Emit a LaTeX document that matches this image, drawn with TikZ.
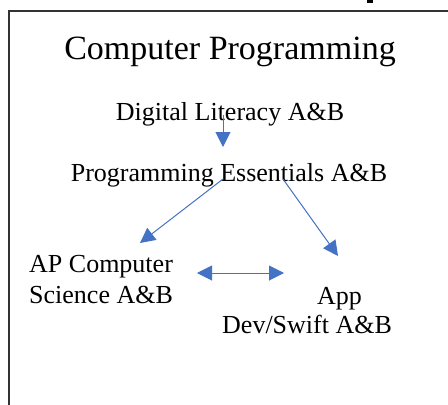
\documentclass[tikz,border=0pt]{standalone}
\usepackage{fontspec}
\setmainfont{Liberation Serif}
\usetikzlibrary{arrows.meta}
\definecolor{arrowblue}{RGB}{68,114,196}
\begin{document}
\begin{tikzpicture}[x=1pt,y=-1pt]
    \tikzstyle{course}=[inner sep=0pt,font=\fontsize{26}{31}\selectfont]
    \tikzstyle{link}=[draw=arrowblue,line width=1pt,-{Triangle[length=15pt,width=15pt]}]
    \useasboundingbox (0,0) rectangle (448,405);
    \draw[line width=1.2pt,black!80] (448,11) -- (9,11) -- (9,405);
    \fill (367,0) rectangle (373,3);

    \node[course,font=\fontsize{34}{40}\selectfont,anchor=base] (title) at (230,59) {Computer Programming};
    \node[course,anchor=base] (dl) at (230,120) {Digital Literacy A\&B};
    \node[course,anchor=base] (pe) at (229,181) {Programming Essentials A\&B};
    \node[course,anchor=base west] (apcs-1) at (29,272) {AP Computer};
    \node[course,anchor=base west] (apcs-2) at (29,303) {Science A\&B};
    \node[course,anchor=base west] (app-1) at (317,304) {App};
    \node[course,anchor=base west] (app-2) at (222,333) {Dev/Swift A\&B};

    \coordinate (dl-out) at (223,115);
    \coordinate (pe-in) at (223,147);
    \coordinate (pe-left) at (223,179);
    \coordinate (apcs-in) at (140,243);
    \coordinate (pe-right) at (283,179);
    \coordinate (app-in) at (338,256);
    \coordinate (apcs-side) at (197,273);
    \coordinate (app-side) at (284,273);

    \foreach \from/\to in {dl-out/pe-in, pe-left/apcs-in, pe-right/app-in}
        \draw[link] (\from) -- (\to);
    \draw[link,{Triangle[length=15pt,width=15pt]}-{Triangle[length=15pt,width=15pt]}] (apcs-side) -- (app-side);
\end{tikzpicture}
\end{document}
